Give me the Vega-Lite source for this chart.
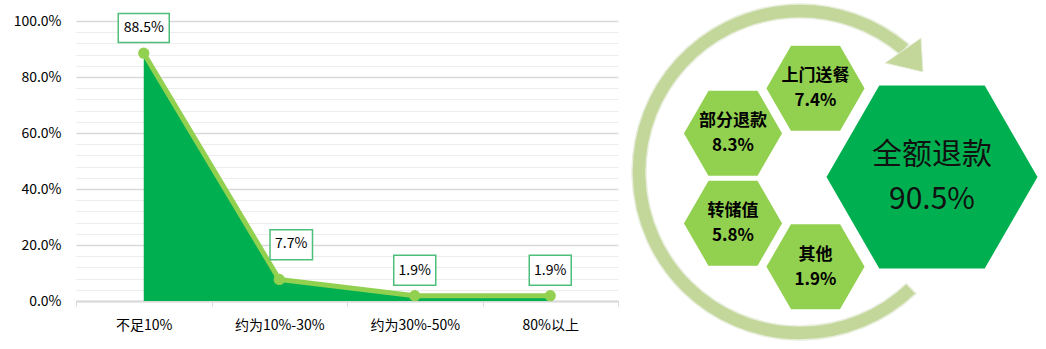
{
  "$schema": "https://vega.github.io/schema/vega-lite/v6.json",
  "padding": 0,
  "spacing": 22,
  "bounds": "flush",
  "background": "white",
  "config": {
    "view": {"stroke": null},
    "font": "Noto Sans CJK SC",
    "axis": {"labelFont": "Noto Sans CJK SC"}
  },
  "datasets": {
    "ratio": [
      {"category": "不足10%", "share": 0.885},
      {"category": "约为10%-30%", "share": 0.077},
      {"category": "约为30%-50%", "share": 0.019},
      {"category": "80%以上", "share": 0.019}
    ],
    "methods": [
      {"method": "全额退款", "share": 0.905, "kind": "main", "cx": 292, "cy": 177},
      {"method": "上门送餐", "share": 0.074, "kind": "other", "cx": 175.5, "cy": 88.3},
      {"method": "部分退款", "share": 0.083, "kind": "other", "cx": 93, "cy": 133.3},
      {"method": "转储值", "share": 0.058, "kind": "other", "cx": 93, "cy": 223.3},
      {"method": "其他", "share": 0.019, "kind": "other", "cx": 175.5, "cy": 266.7}
    ],
    "cycle": [
      {"part": "ring", "cx": 160, "cy": 172},
      {"part": "head", "cx": 263, "cy": 50}
    ]
  },
  "hconcat": [
    {
      "width": 542,
      "height": 301,
      "data": {"name": "ratio"},
      "encoding": {
        "x": {
          "field": "category",
          "type": "nominal",
          "sort": null,
          "bandPosition": 0.5,
          "scale": {"type": "band", "paddingInner": 0, "paddingOuter": 0},
          "axis": {
            "title": null,
            "tickBand": "extent",
            "ticks": true,
            "tickColor": "#D9D9D9",
            "tickSize": 5,
            "tickWidth": 1,
            "domainColor": "#D9D9D9",
            "domainWidth": 2,
            "labelAngle": 0,
            "labelFontSize": 14,
            "labelColor": "#000000",
            "labelPadding": 12,
            "grid": false
          }
        },
        "y": {
          "field": "share",
          "type": "quantitative",
          "scale": {"domain": [0, 1.075], "nice": false},
          "axis": {
            "title": null,
            "values": [0, 0.04, 0.08, 0.12, 0.16, 0.2, 0.24, 0.28, 0.32, 0.36, 0.4, 0.44, 0.48, 0.52, 0.56, 0.6, 0.64, 0.68, 0.72, 0.76, 0.8, 0.84, 0.88, 0.92, 0.96, 1.0],
            "labelExpr": "round(datum.value*100) % 20 == 0 ? format(datum.value, '.1%') : ''",
            "grid": true,
            "gridColor": {"condition": {"test": "round(datum.value*100) % 20 == 0", "value": "#D9D9D9"}, "value": "#EDEDED"},
            "gridWidth": {"condition": {"test": "round(datum.value*100) % 20 == 0", "value": 1.5}, "value": 1},
            "ticks": false,
            "domain": false,
            "labelFontSize": 14,
            "labelColor": "#000000",
            "labelPadding": 15,
            "minExtent": 76
          }
        }
      },
      "layer": [
        {"mark": {"type": "area", "color": "#00B050", "opacity": 1}},
        {"mark": {"type": "line", "color": "#92D050", "strokeWidth": 5}},
        {"mark": {"type": "point", "filled": true, "color": "#92D050", "size": 125, "opacity": 1}},
        {
          "transform": [{"filter": "datum.category != '约为10%-30%'"}],
          "mark": {"type": "point", "filled": true, "fill": "white", "stroke": "#4DBF7A", "strokeWidth": 1.5, "opacity": 1, "size": 2500},
          "encoding": {
            "shape": {"condition": {"test": "datum.share > 0.5", "value": "M-1.02,-1.59H1.02V-0.43H-1.02Z"}, "value": "M-0.84,-1.62H0.84V-0.42H-0.84Z"}
          }
        },
        {
          "transform": [{"filter": "datum.category == '约为10%-30%'"}],
          "mark": {"type": "point", "filled": true, "fill": "white", "stroke": "#4DBF7A", "strokeWidth": 1.5, "opacity": 1, "size": 2500, "shape": "M-0.37,-1.99H1.33V-0.79H-0.37Z"}
        },
        {
          "transform": [{"filter": "datum.category != '约为10%-30%'"}],
          "mark": {"type": "text", "fontSize": 14, "color": "#000000", "align": "center", "baseline": "middle", "dy": -25},
          "encoding": {"text": {"field": "share", "type": "quantitative", "format": ".1%"}}
        },
        {
          "transform": [{"filter": "datum.category == '约为10%-30%'"}],
          "mark": {"type": "text", "fontSize": 14, "color": "#000000", "align": "center", "baseline": "middle", "dx": 12, "dy": -35},
          "encoding": {"text": {"field": "share", "type": "quantitative", "format": ".1%"}}
        }
      ]
    },
    {
      "width": 406,
      "height": 349,
      "encoding": {
        "x": {"field": "cx", "type": "quantitative", "scale": {"domain": [0, 406], "nice": false, "zero": false}, "axis": null},
        "y": {"field": "cy", "type": "quantitative", "scale": {"domain": [0, 349], "reverse": true, "nice": false, "zero": false}, "axis": null}
      },
      "layer": [
        {
          "data": {"name": "cycle"},
          "transform": [{"filter": "datum.part == 'ring'"}],
          "mark": {"type": "arc", "color": "#C4D79B", "stroke": "#E8EEDC", "strokeWidth": 1.5, "radius": 168, "radius2": 154, "theta": 2.38, "theta2": 6.99}
        },
        {
          "data": {"name": "cycle"},
          "transform": [{"filter": "datum.part == 'head'"}],
          "mark": {"type": "point", "filled": true, "color": "#C4D79B", "stroke": "#E8EEDC", "strokeWidth": 1, "opacity": 1, "size": 4, "shape": "M18,-12L20,22L-18,13Z"}
        },
        {
          "data": {"name": "methods"},
          "mark": {"type": "point", "filled": true, "stroke": "white", "strokeWidth": 2.5, "opacity": 1, "shape": "M-1,0L-0.5,-0.866L0.5,-0.866L1,0L0.5,0.866L-0.5,0.866Z"},
          "encoding": {
            "size": {"condition": {"test": "datum.kind == 'main'", "value": 45796}, "value": 10201},
            "fill": {"condition": {"test": "datum.kind == 'main'", "value": "#00B050"}, "value": "#92D050"}
          }
        },
        {
          "data": {"name": "methods"},
          "transform": [{"filter": "datum.kind != 'main'"}],
          "mark": {"type": "text", "fontSize": 17, "fontWeight": "bold", "color": "#000000", "align": "center", "baseline": "middle", "dy": -12},
          "encoding": {"text": {"field": "method", "type": "nominal"}}
        },
        {
          "data": {"name": "methods"},
          "transform": [{"filter": "datum.kind != 'main'"}],
          "mark": {"type": "text", "fontSize": 17, "fontWeight": "bold", "color": "#000000", "align": "center", "baseline": "middle", "dy": 13},
          "encoding": {"text": {"field": "share", "type": "quantitative", "format": ".1%"}}
        },
        {
          "data": {"name": "methods"},
          "transform": [{"filter": "datum.kind == 'main'"}],
          "mark": {"type": "text", "fontSize": 30, "color": "#111111", "align": "center", "baseline": "middle", "dy": -22},
          "encoding": {"text": {"field": "method", "type": "nominal"}}
        },
        {
          "data": {"name": "methods"},
          "transform": [{"filter": "datum.kind == 'main'"}],
          "mark": {"type": "text", "fontSize": 30, "color": "#111111", "align": "center", "baseline": "middle", "dy": 23},
          "encoding": {"text": {"field": "share", "type": "quantitative", "format": ".1%"}}
        }
      ]
    }
  ]
}
